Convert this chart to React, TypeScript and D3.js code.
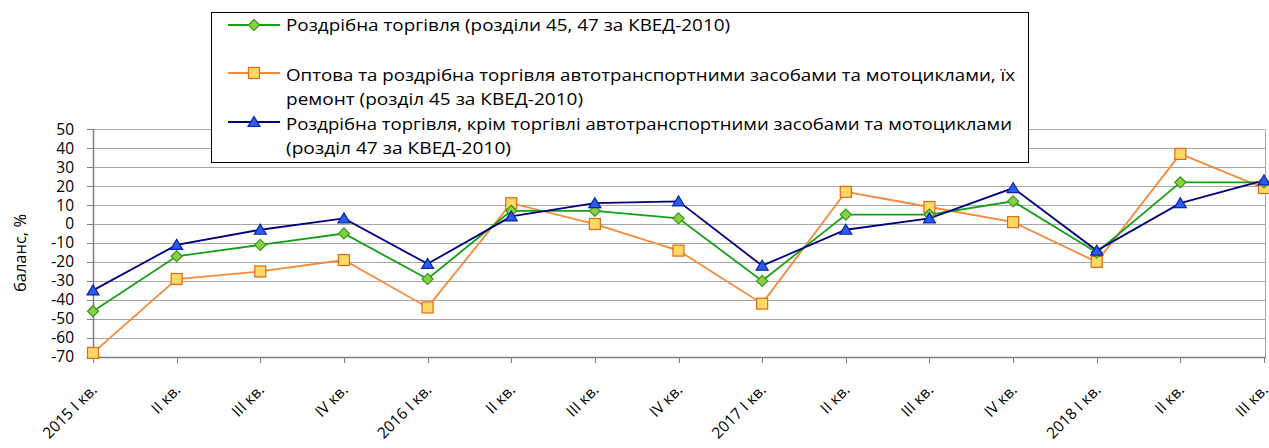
import React from "react";
import * as d3 from "d3";

const categories = [
  "2015 I кв.", "II кв.", "III кв.", "IV кв.",
  "2016 I кв.", "II кв.", "III кв.", "IV кв.",
  "2017 I кв.", "II кв.", "III кв.", "IV кв.",
  "2018 I кв.", "II кв.", "III кв.",
];
const retailAll = [-46, -17, -11, -5, -29, 7, 7, 3, -30, 5, 5, 12, -15, 22, 22];
const autoTrade = [-68, -29, -25, -19, -44, 11, 0, -14, -42, 17, 9, 1, -20, 37, 19];
const retailExAuto = [-35, -11, -3, 3, -21, 4, 11, 12, -22, -3, 3, 19, -14, 11, 23];
const yTicks = [50, 40, 30, 20, 10, 0, -10, -20, -30, -40, -50, -60, -70];
const yTitle = "баланс, %";
const legendLines = [
  { text: "Роздрібна торгівля (розділи 45, 47 за КВЕД-2010)", width: 444 },
  { text: "Оптова та роздрібна торгівля автотранспортними засобами та мотоциклами, їх", width: 729 },
  { text: "ремонт (розділ 45 за КВЕД-2010)", width: 297 },
  { text: "Роздрібна торгівля, крім торгівлі автотранспортними засобами та мотоциклами", width: 726 },
  { text: "(розділ 47 за КВЕД-2010)", width: 225 },
];

const FONT = "'Open Sans', 'Noto Sans', sans-serif";

type Series = {
  values: number[];
  line: string;
  fill: string;
  stroke: string;
  marker: "diamond" | "square" | "triangle";
};

const series: Series[] = [
  { values: autoTrade, line: "#f58a3c", fill: "#ffd966", stroke: "#e06a14", marker: "square" },
  { values: retailAll, line: "#14a014", fill: "#8ccf3f", stroke: "#2f9a1a", marker: "diamond" },
  { values: retailExAuto, line: "#000080", fill: "#2a5cf0", stroke: "#0a22a8", marker: "triangle" },
];

function Marker({ kind, x, y, fill, stroke }: { kind: string; x: number; y: number; fill: string; stroke: string }) {
  if (kind === "square") {
    return <rect x={x - 5.5} y={y - 5.5} width={11} height={11} fill={fill} stroke={stroke} strokeWidth={1.2} />;
  }
  if (kind === "diamond") {
    const s = 5.5;
    return (
      <path d={`M${x},${y - s}L${x + s},${y}L${x},${y + s}L${x - s},${y}Z`} fill={fill} stroke={stroke} strokeWidth={1.2} />
    );
  }
  const w = 6, h = 5;
  return (
    <path d={`M${x},${y - h - 0.5}L${x + w},${y + h - 0.5}L${x - w},${y + h - 0.5}Z`} fill={fill} stroke={stroke} strokeWidth={1.2} />
  );
}

export default function App() {
  const W = 1269, H = 448;
  const x = d3.scalePoint<number>().domain(d3.range(categories.length)).range([93, 1264]);
  const y = d3.scaleLinear().domain([-70, 50]).range([356.7, 129.3]);
  const lineGen = (vals: number[]) =>
    d3.line<number>().x((_, i) => x(i)!).y((d) => y(d))(vals) || "";

  const legendRows = [
    { s: series[1], cy: 25 },
    { s: series[0], cy: 73 },
    { s: series[2], cy: 122 },
  ];
  const legendBaselines = [31, 80.5, 105, 129.5, 154];

  return (
    <svg width={W} height={H} style={{ position: "absolute", left: 0, top: 0, background: "#fff" }} fontFamily={FONT}>
      <rect x={0} y={0} width={W} height={H} fill="#fff" />
      {/* grid */}
      {yTicks.map((t) => (
        <line key={"g" + t} x1={93} x2={1265} y1={Math.round(y(t)) + 0.5} y2={Math.round(y(t)) + 0.5} stroke="#a6a6a6" strokeWidth={1} />
      ))}
      <line x1={1265.5} x2={1265.5} y1={Math.round(y(50)) + 0.5} y2={Math.round(y(-70)) + 0.5} stroke="#a6a6a6" />
      {/* axes */}
      <line x1={93.5} x2={93.5} y1={Math.round(y(50)) + 0.5} y2={Math.round(y(-70)) + 0.5} stroke="#7f7f7f" strokeWidth={1.5} />
      <line x1={93} x2={1266} y1={Math.round(y(-70)) + 0.5} y2={Math.round(y(-70)) + 0.5} stroke="#7f7f7f" strokeWidth={1.5} />
      {yTicks.map((t) => (
        <g key={"yt" + t}>
          <line x1={87} x2={93} y1={Math.round(y(t)) + 0.5} y2={Math.round(y(t)) + 0.5} stroke="#7f7f7f" />
          <text x={74} y={y(t)} dy="0.35em" textAnchor="end" fontSize={15.5} fill="#000">
            {t}
          </text>
        </g>
      ))}
      {categories.map((c, i) => (
        <g key={"xt" + i}>
          <line x1={Math.round(x(i)!) + 0.5} x2={Math.round(x(i)!) + 0.5} y1={357} y2={363} stroke="#7f7f7f" />
          <text
            transform={`translate(${x(i)! + 1},${387}) rotate(-45)`}
            textAnchor="end"
            dy="0.35em"
            fontSize={15.5}
            fill="#000"
          >
            {c}
          </text>
        </g>
      ))}
      <text transform={`translate(26,253) rotate(-90)`} textAnchor="middle" fontSize={16.5} fill="#000">
        {yTitle}
      </text>
      {/* series */}
      {series.map((s, si) => (
        <path key={"l" + si} d={lineGen(s.values)} fill="none" stroke={s.line} strokeWidth={1.8} />
      ))}
      {series.map((s, si) =>
        s.values.map((v, i) => (
          <Marker key={`m${si}-${i}`} kind={s.marker} x={x(i)!} y={y(v)} fill={s.fill} stroke={s.stroke} />
        ))
      )}
      {/* legend */}
      <rect x={211.5} y={12.5} width={817} height={150} fill="#fff" stroke="#000" strokeWidth={1} />
      {legendRows.map((r, i) => (
        <g key={"lg" + i}>
          <line x1={228} x2={280} y1={r.cy} y2={r.cy} stroke={r.s.line} strokeWidth={1.8} />
          <Marker kind={r.s.marker} x={254} y={r.cy} fill={r.s.fill} stroke={r.s.stroke} />
        </g>
      ))}
      {legendLines.map((l, i) => (
        <text key={"lt" + i} x={286} y={legendBaselines[i]} fontSize={16.5} fill="#000" textLength={l.width} lengthAdjust="spacingAndGlyphs">
          {l.text}
        </text>
      ))}
    </svg>
  );
}
